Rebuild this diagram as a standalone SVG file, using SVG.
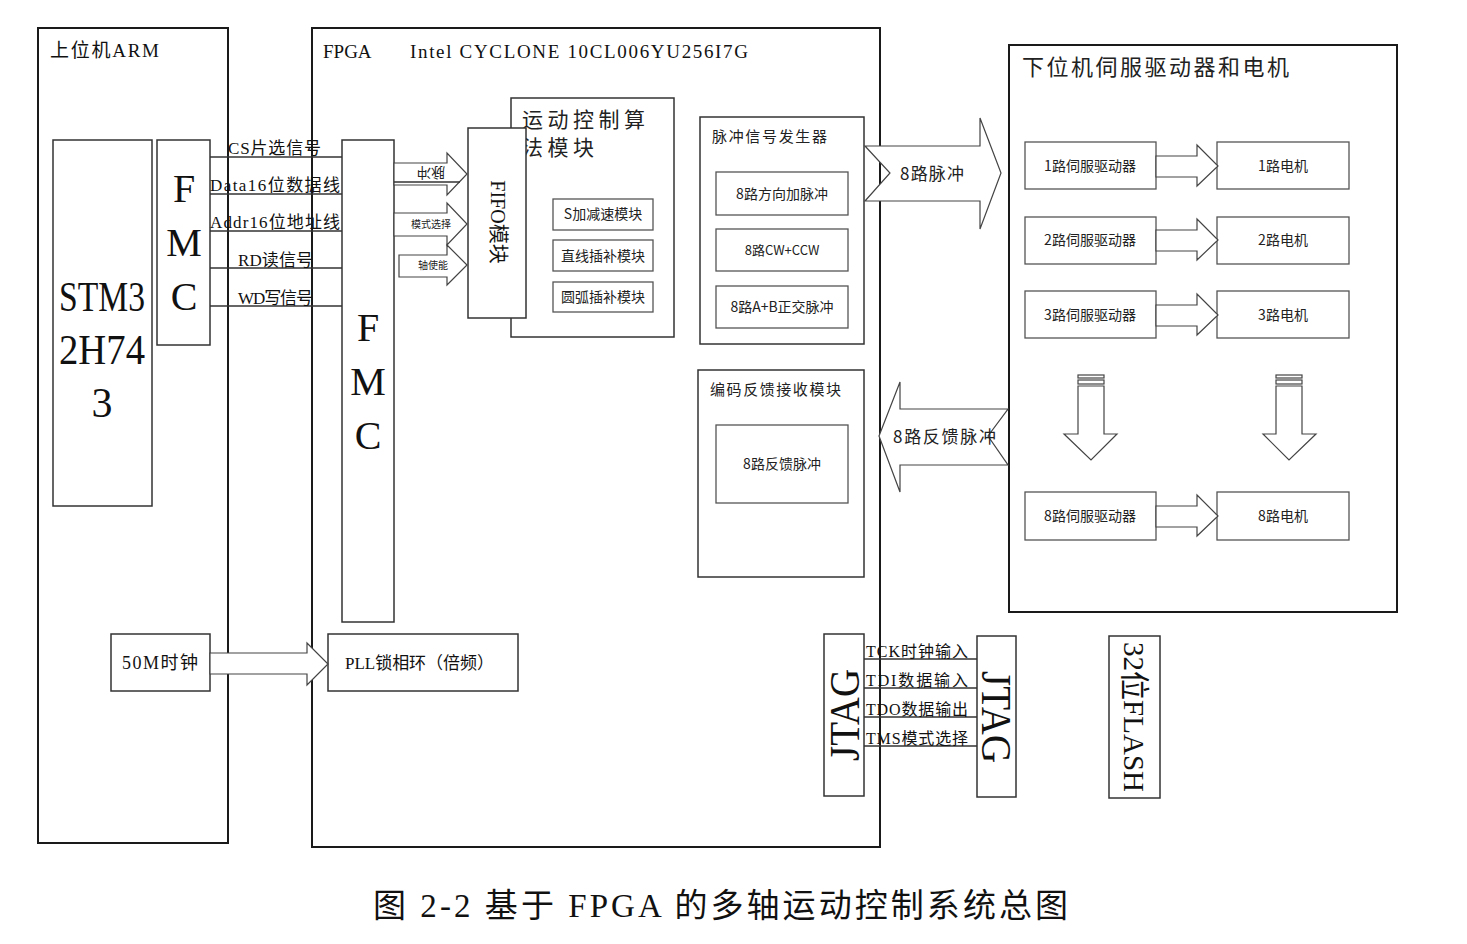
<svg xmlns="http://www.w3.org/2000/svg" width="1467" height="944" viewBox="0 0 1467 944">
<style>
.frame{fill:#fff;stroke:#1a1a1a;stroke-width:2}
.box{fill:#fff;stroke:#333;stroke-width:1.5}
.sub{fill:#fff;stroke:#555;stroke-width:1.3}
.arrow{fill:#fff;stroke:#444;stroke-width:1.2}
.sig{stroke:#333;stroke-width:1.3;fill:none}
text{font-family:"Liberation Serif","Noto Sans CJK SC",serif;fill:#111}
.cn{font-family:"Noto Sans CJK SC","Liberation Sans",sans-serif;fill:#222}
</style>
<rect width="1467" height="944" fill="#fff"/>

<g id="arm">
<rect class="frame" x="38" y="28" width="190" height="815"/>
<text x="50" y="57" font-size="19" textLength="109" lengthAdjust="spacing">上位机ARM</text>
</g>
<g id="stm32">
<rect class="box" x="53" y="140" width="99" height="366"/>
<text x="102" y="311" font-size="42" text-anchor="middle" textLength="86" lengthAdjust="spacingAndGlyphs">STM3</text>
<text x="102" y="364" font-size="42" text-anchor="middle" textLength="86" lengthAdjust="spacingAndGlyphs">2H74</text>
<text x="102" y="417" font-size="42" text-anchor="middle">3</text>
</g>
<g id="fmc-arm">
<rect class="box" x="157" y="140" width="53" height="205"/>
<text x="184" y="202" font-size="40" text-anchor="middle">F</text>
<text x="184" y="256" font-size="40" text-anchor="middle">M</text>
<text x="184" y="310" font-size="40" text-anchor="middle">C</text>
</g>

<g id="fpga">
<rect class="frame" x="312" y="28" width="568" height="819"/>
<text x="323" y="58" font-size="19">FPGA</text>
<text x="410" y="58" font-size="19" textLength="338" lengthAdjust="spacing">Intel CYCLONE 10CL006YU256I7G</text>
</g>
<g id="fmc-fpga">
<rect class="box" x="342" y="140" width="52" height="482"/>
<text x="368" y="341" font-size="40" text-anchor="middle">F</text>
<text x="368" y="395" font-size="40" text-anchor="middle">M</text>
<text x="368" y="449" font-size="40" text-anchor="middle">C</text>
</g>

<g id="motion">
<rect class="box" x="511" y="98" width="163" height="239"/>
<text x="522" y="127" font-size="21" class="cn" textLength="123" lengthAdjust="spacing">运动控制算</text>
<text x="522" y="155" font-size="21" class="cn" textLength="72" lengthAdjust="spacing">法模块</text>
<rect class="sub" x="553" y="199" width="100" height="31"/>
<text x="603" y="219" font-size="14" class="cn" text-anchor="middle">S加减速模块</text>
<rect class="sub" x="553" y="240" width="100" height="31"/>
<text x="603" y="261" font-size="14" class="cn" text-anchor="middle">直线插补模块</text>
<rect class="sub" x="553" y="282" width="100" height="30"/>
<text x="603" y="302" font-size="14" class="cn" text-anchor="middle">圆弧插补模块</text>
</g>
<g id="fifo">
<rect class="box" x="468" y="128" width="58" height="190"/>
<text transform="translate(491,222) rotate(90)" font-size="20" text-anchor="middle">FIFO模块</text>
</g>

<g id="pulse-gen">
<rect class="box" x="700" y="117" width="164" height="227"/>
<text x="712" y="142" font-size="15" class="cn" textLength="115" lengthAdjust="spacing">脉冲信号发生器</text>
<rect class="sub" x="716" y="172" width="132" height="43"/>
<text x="782" y="199" font-size="14" class="cn" text-anchor="middle">8路方向加脉冲</text>
<rect class="sub" x="716" y="229" width="132" height="42"/>
<text x="782" y="255" font-size="13" class="cn" text-anchor="middle">8路CW+CCW</text>
<rect class="sub" x="716" y="286" width="132" height="42"/>
<text x="782" y="312" font-size="14" class="cn" text-anchor="middle">8路A+B正交脉冲</text>
</g>

<g id="encoder">
<rect class="box" x="698" y="370" width="166" height="207"/>
<text x="710" y="395" font-size="15" class="cn" textLength="131" lengthAdjust="spacing">编码反馈接收模块</text>
<rect class="sub" x="716" y="425" width="132" height="78"/>
<text x="782" y="469" font-size="14" class="cn" text-anchor="middle">8路反馈脉冲</text>
</g>

<g id="servo">
<rect class="frame" x="1009" y="45" width="388" height="567"/>
<text x="1022" y="75" font-size="22" class="cn" textLength="267" lengthAdjust="spacing">下位机伺服驱动器和电机</text>
<rect class="sub" x="1025" y="142" width="131" height="47"/>
<text x="1090" y="171" font-size="14" class="cn" text-anchor="middle">1路伺服驱动器</text>
<rect class="sub" x="1217" y="142" width="132" height="47"/>
<text x="1283" y="171" font-size="14" class="cn" text-anchor="middle">1路电机</text>
<rect class="sub" x="1025" y="217" width="131" height="47"/>
<text x="1090" y="245" font-size="14" class="cn" text-anchor="middle">2路伺服驱动器</text>
<rect class="sub" x="1217" y="217" width="132" height="47"/>
<text x="1283" y="245" font-size="14" class="cn" text-anchor="middle">2路电机</text>
<rect class="sub" x="1025" y="291" width="131" height="47"/>
<text x="1090" y="320" font-size="14" class="cn" text-anchor="middle">3路伺服驱动器</text>
<rect class="sub" x="1217" y="291" width="132" height="47"/>
<text x="1283" y="320" font-size="14" class="cn" text-anchor="middle">3路电机</text>
<rect class="sub" x="1025" y="492" width="131" height="48"/>
<text x="1090" y="521" font-size="14" class="cn" text-anchor="middle">8路伺服驱动器</text>
<rect class="sub" x="1217" y="492" width="132" height="48"/>
<text x="1283" y="521" font-size="14" class="cn" text-anchor="middle">8路电机</text>
</g>

<g id="clock50">
<rect class="box" x="111" y="634" width="99" height="57"/>
<text x="160" y="669" font-size="18" text-anchor="middle" textLength="76" lengthAdjust="spacing">50M时钟</text>
</g>
<g id="pll">
<rect class="box" x="328" y="634" width="190" height="57"/>
<text x="345" y="669" font-size="17" textLength="149" lengthAdjust="spacing">PLL锁相环（倍频）</text>
</g>

<g id="jtag-fpga">
<rect class="box" x="824" y="634" width="40" height="162"/>
<text transform="translate(859,715) rotate(-90)" font-size="42" text-anchor="middle" textLength="92" lengthAdjust="spacingAndGlyphs">JTAG</text>
</g>
<g id="jtag-ext">
<rect class="box" x="977" y="636" width="39" height="161"/>
<text transform="translate(982,717) rotate(90)" font-size="42" text-anchor="middle" textLength="92" lengthAdjust="spacingAndGlyphs">JTAG</text>
</g>
<g id="flash">
<rect class="box" x="1109" y="636" width="51" height="162"/>
<text transform="translate(1124,717) rotate(90)" font-size="30" text-anchor="middle" textLength="150" lengthAdjust="spacingAndGlyphs">32位FLASH</text>
</g>

<g id="connectors">
<line class="sig" x1="210" y1="157" x2="342" y2="157"/>
<line class="sig" x1="210" y1="194" x2="342" y2="194"/>
<line class="sig" x1="210" y1="231" x2="342" y2="231"/>
<line class="sig" x1="210" y1="268" x2="342" y2="268"/>
<line class="sig" x1="210" y1="306" x2="342" y2="306"/>
<text x="228" y="154" font-size="17" textLength="93" lengthAdjust="spacing">CS片选信号</text>
<text x="210" y="191" font-size="17" textLength="130" lengthAdjust="spacing">Data16位数据线</text>
<text x="210" y="228" font-size="17" textLength="130" lengthAdjust="spacing">Addr16位地址线</text>
<text x="238" y="266" font-size="17" textLength="75" lengthAdjust="spacing">RD读信号</text>
<text x="238" y="304" font-size="17" textLength="75" lengthAdjust="spacing">WD写信号</text>

<polygon class="arrow" points="394,163 447,163 447,153 467,174 447,195 447,185 394,185"/>
<line class="sig" x1="394" y1="182" x2="460" y2="182"/>
<text transform="translate(431,174) rotate(180)" font-size="14" class="cn" text-anchor="middle" dominant-baseline="central">脉冲</text>
<polygon class="arrow" points="394,213 447,213 447,203 467,224 447,245 447,236 394,236"/>
<text x="431" y="228" font-size="10" class="cn" text-anchor="middle">模式选择</text>
<polygon class="arrow" points="399,255 447,255 447,245 467,265 447,285 447,277 399,277"/>
<text x="433" y="269" font-size="10" class="cn" text-anchor="middle">轴使能</text>

<polygon class="arrow" points="865,146 980,146 980,118 1001,173 980,229 980,201 865,201 890,173"/>
<text x="900" y="180" font-size="17" class="cn" textLength="64" lengthAdjust="spacing">8路脉冲</text>

<polygon class="arrow" points="1008,409 900,409 900,382 879,436 900,492 900,465 1008,465 988,436"/>
<text x="893" y="443" font-size="17" class="cn" textLength="103" lengthAdjust="spacing">8路反馈脉冲</text>

<polygon class="arrow" points="1156,156 1197,156 1197,145 1218,166 1197,186 1197,177 1156,177"/>
<polygon class="arrow" points="1156,230 1197,230 1197,219 1218,240 1197,260 1197,251 1156,251"/>
<polygon class="arrow" points="1156,305 1197,305 1197,294 1218,315 1197,335 1197,326 1156,326"/>
<polygon class="arrow" points="1156,506 1197,506 1197,495 1218,516 1197,536 1197,527 1156,527"/>

<rect class="arrow" x="1078" y="375" width="26" height="3"/>
<rect class="arrow" x="1078" y="380" width="26" height="4"/>
<polygon class="arrow" points="1078,386 1104,386 1104,434 1117,434 1091,460 1064,434 1078,434"/>
<rect class="arrow" x="1276" y="375" width="26" height="3"/>
<rect class="arrow" x="1276" y="380" width="26" height="4"/>
<polygon class="arrow" points="1276,386 1302,386 1302,434 1316,434 1289,460 1263,434 1276,434"/>

<polygon class="arrow" points="210,653 307,653 307,643 328,664 307,685 307,674 210,674"/>

<line class="sig" x1="864" y1="659" x2="977" y2="659"/>
<line class="sig" x1="864" y1="688" x2="977" y2="688"/>
<line class="sig" x1="864" y1="717" x2="977" y2="717"/>
<line class="sig" x1="864" y1="746" x2="977" y2="746"/>
<text x="866" y="657" font-size="16" textLength="102" lengthAdjust="spacing">TCK时钟输入</text>
<text x="866" y="686" font-size="16" textLength="102" lengthAdjust="spacing">TDI数据输入</text>
<text x="866" y="715" font-size="16" textLength="102" lengthAdjust="spacing">TDO数据输出</text>
<text x="866" y="744" font-size="16" textLength="102" lengthAdjust="spacing">TMS模式选择</text>
</g>

<text x="373" y="917" font-size="33" textLength="695" lengthAdjust="spacing">图 2-2 基于 FPGA 的多轴运动控制系统总图</text>
</svg>
